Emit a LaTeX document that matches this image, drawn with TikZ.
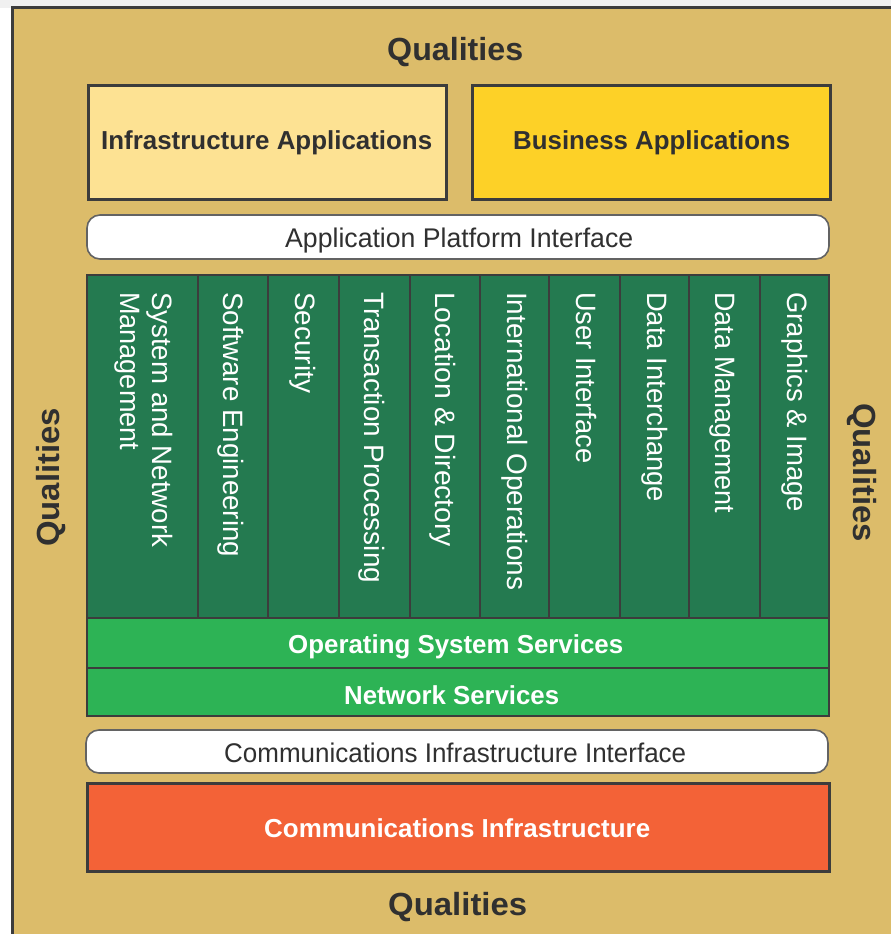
\documentclass[tikz,border=0pt]{standalone}
\usepackage{fontspec}
\setmainfont{Liberation Sans}
\usepackage{graphicx}
\definecolor{tan}{HTML}{DCBC6A}
\definecolor{infray}{HTML}{FDE293}
\definecolor{busy}{HTML}{FDD127}
\definecolor{dkgreen}{HTML}{247A50}
\definecolor{ltgreen}{HTML}{2DB355}
\definecolor{orng}{HTML}{F36237}
\definecolor{edge}{HTML}{3C3C3C}
\definecolor{txt}{HTML}{303030}
\newcommand{\fitw}[2]{\resizebox{#1pt}{\height}{#2}}
\tikzset{
  lbl/.style={inner sep=0pt, anchor=base west},
  boldlbl/.style={lbl, font=\bfseries\fontsize{26}{30}\selectfont, text=txt},
  whitebold/.style={lbl, font=\bfseries\fontsize{26}{30}\selectfont, text=white},
  reglbl/.style={lbl, font=\fontsize{27}{30}\selectfont, text=txt},
  qual/.style={lbl, font=\bfseries\fontsize{32}{36}\selectfont, text=txt},
  coltxt/.style={lbl, rotate=-90, font=\fontsize{28}{30}\selectfont, text=white},
  box/.style={draw=edge, line width=3pt},
  pill/.style={draw=edge!80, line width=1.6pt, fill=white, rounded corners=13pt},
}
\begin{document}
\begin{tikzpicture}[x=1pt,y=-1pt]
\useasboundingbox (0,0) rectangle (891,934);
\fill[white!94!black] (0,0) rectangle (891,934);
\fill[white] (0,8) rectangle (12,934);
% outer frame
\draw[draw=edge, line width=3pt, fill=tan] (12,960) -- (12,8) -- (920,8) -- (920,960) -- cycle;
% application boxes
\draw[box, fill=infray] (88,85) rectangle (446,199);
\draw[box, fill=busy] (472,85) rectangle (830,199);
\node[boldlbl] (infra) at (101,149) {\fitw{331}{Infrastructure Applications}};
\node[boldlbl] (bus) at (513,149) {\fitw{277}{Business Applications}};
% API
\draw[pill] (87,215) rectangle (829,259);
\node[reglbl] (api) at (285,247) {\fitw{348}{Application Platform Interface}};
% service columns
\draw[draw=edge, line width=2.5pt, fill=dkgreen] (87,275) rectangle (829,618);
\foreach \xx in {198,268,339,410,480,549,620,689,760}
  \draw[draw=edge, line width=2pt] (\xx,275) -- (\xx,618);
\node[coltxt] (sys1) at (152,292) {\fitw{255}{System and Network}};
\node[coltxt] (sys2) at (120,292) {\fitw{158}{Management}};
\node[coltxt] (swe) at (223,292) {\fitw{265}{Software Engineering}};
\node[coltxt] (sec) at (295,292) {\fitw{101}{Security}};
\node[coltxt] (tp) at (364,292) {\fitw{291}{Transaction Processing}};
\node[coltxt] (loc) at (435,292) {\fitw{255}{Location \& Directory}};
\node[coltxt] (intl) at (507,292) {\fitw{298}{International Operations}};
\node[coltxt] (ui) at (576,292) {\fitw{171}{User Interface}};
\node[coltxt] (di) at (647,292) {\fitw{210}{Data Interchange}};
\node[coltxt] (dm) at (715,292) {\fitw{221}{Data Management}};
\node[coltxt] (gi) at (787,292) {\fitw{220}{Graphics \& Image}};
% OS and network services
\draw[draw=edge, line width=2.5pt, fill=ltgreen] (87,618) rectangle (829,668);
\draw[draw=edge, line width=2.5pt, fill=ltgreen] (87,668) rectangle (829,716);
\node[whitebold] (oss) at (288,653) {\fitw{335}{Operating System Services}};
\node[whitebold] (ns) at (344,704) {\fitw{215}{Network Services}};
% comms interface
\draw[pill] (86,730) rectangle (828,773);
\node[reglbl] (cii) at (224,762) {\fitw{462}{Communications Infrastructure Interface}};
% comms infrastructure
\draw[box, fill=orng] (87,783) rectangle (829,871);
\node[whitebold] (ci) at (264,837) {\fitw{386}{Communications Infrastructure}};
% qualities
\node[qual] (qtop) at (387,60) {\fitw{136}{Qualities}};
\node[qual] (qbot) at (388,915) {\fitw{139}{Qualities}};
\node[qual, rotate=90] (qleft) at (59,547) {\fitw{139}{Qualities}};
\node[qual, rotate=-90] (qright) at (853,403) {\fitw{139}{Qualities}};
\end{tikzpicture}
\end{document}
